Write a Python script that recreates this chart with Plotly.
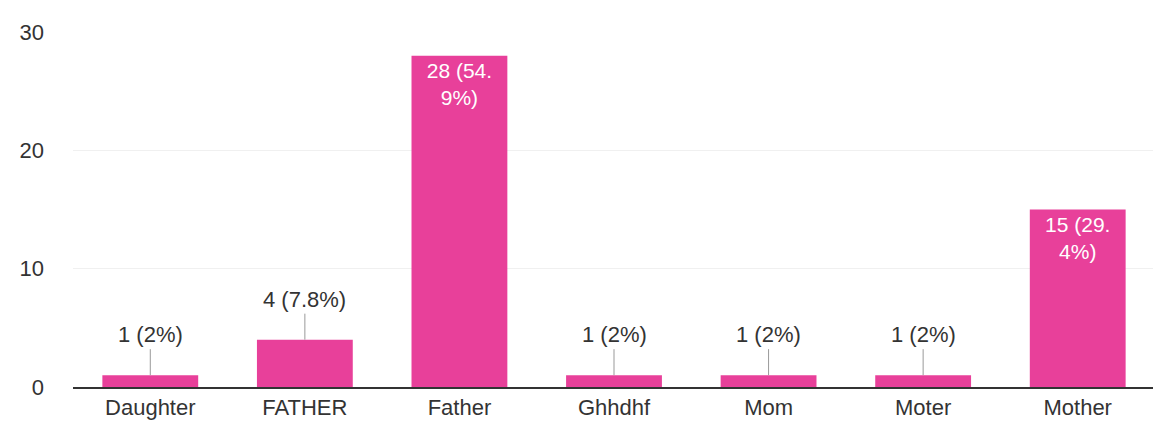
import plotly.graph_objects as go

categories = ["Daughter", "FATHER", "Father", "Ghhdhf", "Mom", "Moter", "Mother"]
counts = [1, 4, 28, 1, 1, 1, 15]
percents = ["2%", "7.8%", "54.9%", "2%", "2%", "2%", "29.4%"]

BAR_COLOR = "#E8409A"
FONT = "Liberation Sans, Arial, sans-serif"

inside_text = []
for c, p in zip(counts, percents):
    if c >= 10:
        lbl = f"{c} ({p})"
        cut = lbl.index(".") + 1 if "." in lbl else len(lbl)
        inside_text.append(lbl[:cut] + "<br>" + lbl[cut:])
    else:
        inside_text.append("")

fig = go.Figure()
fig.add_trace(go.Bar(
    x=categories, y=counts,
    marker=dict(color=BAR_COLOR, line=dict(width=0)),
    text=inside_text,
    textposition="inside",
    insidetextanchor="end",
    textangle=0,
    textfont=dict(color="white", size=21, family=FONT),
    width=0.62,
    hoverinfo="skip",
))

for cat, c, p in zip(categories, counts, percents):
    if c < 10:
        fig.add_annotation(
            x=cat, y=c, xref="x", yref="y",
            text=f"{c} ({p})",
            showarrow=True, arrowhead=0, arrowwidth=1, arrowcolor="#999999",
            ax=0, ay=-26, yanchor="bottom",
            font=dict(size=22, color="#333333", family=FONT),
        )

fig.update_layout(
    width=1161, height=441,
    margin=dict(l=62, r=14, t=22, b=62),
    paper_bgcolor="white", plot_bgcolor="white",
    showlegend=False,
    font=dict(family=FONT, color="#333333"),
    xaxis=dict(
        showline=True, linecolor="#333333", linewidth=2,
        showgrid=False, ticks="",
        tickfont=dict(size=22, color="#333333", family=FONT),
    ),
    yaxis=dict(
        range=[0, 30], tickvals=[0, 10, 20, 30],
        showgrid=True, gridcolor="#f0f0f0", gridwidth=1,
        zeroline=False, showline=False, ticks="",
        tickfont=dict(size=22, color="#333333", family=FONT),
        ticklabelstandoff=28,
    ),
)

fig.write_html("out.html")
